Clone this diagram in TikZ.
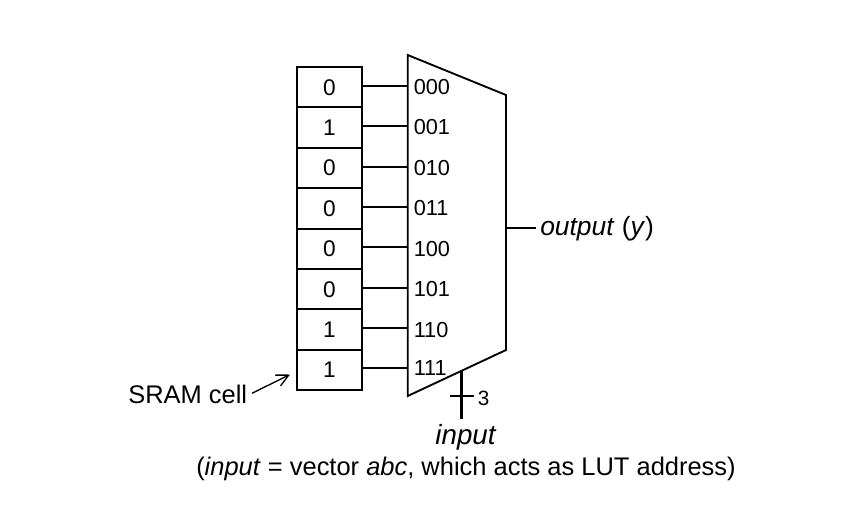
\documentclass[tikz,border=0pt]{standalone}
\usepackage{fontspec}
\setmainfont{Liberation Sans}
\usetikzlibrary{arrows.meta}
\tikzset{
    memcell/.style={draw, line width=1.4pt, minimum width=64.5pt*0.75, minimum height=40.4pt*0.75, inner sep=0pt, font=\fontsize{17}{18}\selectfont},
    addrlabel/.style={anchor=base west, inner sep=0pt, font=\fontsize{16.3}{18}\selectfont},
    bigtext/.style={inner sep=0pt, font=\fontsize{19.1}{22}\selectfont},
    wire/.style={line width=1.4pt},
}

\begin{document}
\begin{tikzpicture}[x=0.75pt, y=-0.75pt, >={Straight Barb[length=9pt, width=9pt]}]
\useasboundingbox (0, 0) rectangle (850, 512);

% === Celdas SRAM ===
\node[memcell] (cell0) at (329.5, 87.2) {0};
\node[memcell] (cell1) at (329.5, 127.6) {1};
\node[memcell] (cell2) at (329.5, 168) {0};
\node[memcell] (cell3) at (329.5, 208.4) {0};
\node[memcell] (cell4) at (329.5, 248.8) {0};
\node[memcell] (cell5) at (329.5, 289.2) {0};
\node[memcell] (cell6) at (329.5, 329.6) {1};
\node[memcell] (cell7) at (329.5, 370) {1};

% === Multiplexor ===
\draw[wire, line join=miter] (407.7, 55) -- (506, 95) -- (506, 350) -- (407.7, 396) -- cycle;
\coordinate (in0) at (407.7, 86);
\coordinate (in1) at (407.7, 126.3);
\coordinate (in2) at (407.7, 166.6);
\coordinate (in3) at (407.7, 206.9);
\coordinate (in4) at (407.7, 247.2);
\coordinate (in5) at (407.7, 288);
\coordinate (in6) at (407.7, 327.8);
\coordinate (in7) at (407.7, 368);
\coordinate (muxout) at (506, 228);
\coordinate (muxsel) at (461.7, 371);

% Conexiones celda - multiplexor
\draw[wire] (cell0.east |- in0) -- (in0);
\draw[wire] (cell1.east |- in1) -- (in1);
\draw[wire] (cell2.east |- in2) -- (in2);
\draw[wire] (cell3.east |- in3) -- (in3);
\draw[wire] (cell4.east |- in4) -- (in4);
\draw[wire] (cell5.east |- in5) -- (in5);
\draw[wire] (cell6.east |- in6) -- (in6);
\draw[wire] (cell7.east |- in7) -- (in7);

% Direcciones
\node[addrlabel] (addr0) at (413.5, 94) {000};
\node[addrlabel] (addr1) at (413.5, 134.5) {001};
\node[addrlabel] (addr2) at (413.5, 175) {010};
\node[addrlabel] (addr3) at (413.5, 215.5) {011};
\node[addrlabel] (addr4) at (413.5, 256) {100};
\node[addrlabel] (addr5) at (413.5, 296.5) {101};
\node[addrlabel] (addr6) at (413.5, 337) {110};
\node[addrlabel] (addr7) at (413.5, 375) {111};

% === Salida ===
\node[bigtext, anchor=base west, font=\fontsize{19.8}{22}\selectfont] (output) at (540, 235) {\textit{output} (\textit{y})};
\draw[wire, shorten >=3pt] (muxout) -- (output.west |- muxout);

% === Entrada de seleccion ===
\node[bigtext, anchor=base, font=\fontsize{20.8}{22}\selectfont] (input) at (466, 444) {\textit{input}};
\node[bigtext, anchor=base west] (note) at (196, 475) {(\textit{input} = vector \textit{abc}, which acts as LUT address)};
\coordinate (busend) at (461.7, 419);
\coordinate (tickl) at (450, 396);
\node[addrlabel, font=\fontsize{15.5}{18}\selectfont] (width) at (477.5, 405) {3};
\draw[line width=2.6pt] (muxsel) -- (busend);
\draw[wire, shorten >=3pt] (tickl) -- (width.west |- tickl);

% === Etiqueta de celda ===
\node[bigtext, anchor=base west] (sram) at (128, 403) {SRAM cell};
\coordinate (sramtip) at (290, 374.5);
\draw[->, line width=1pt] ([shift={(3.5pt, 0.5pt)}]sram.east) -- (sramtip);

\end{tikzpicture}
\end{document}
